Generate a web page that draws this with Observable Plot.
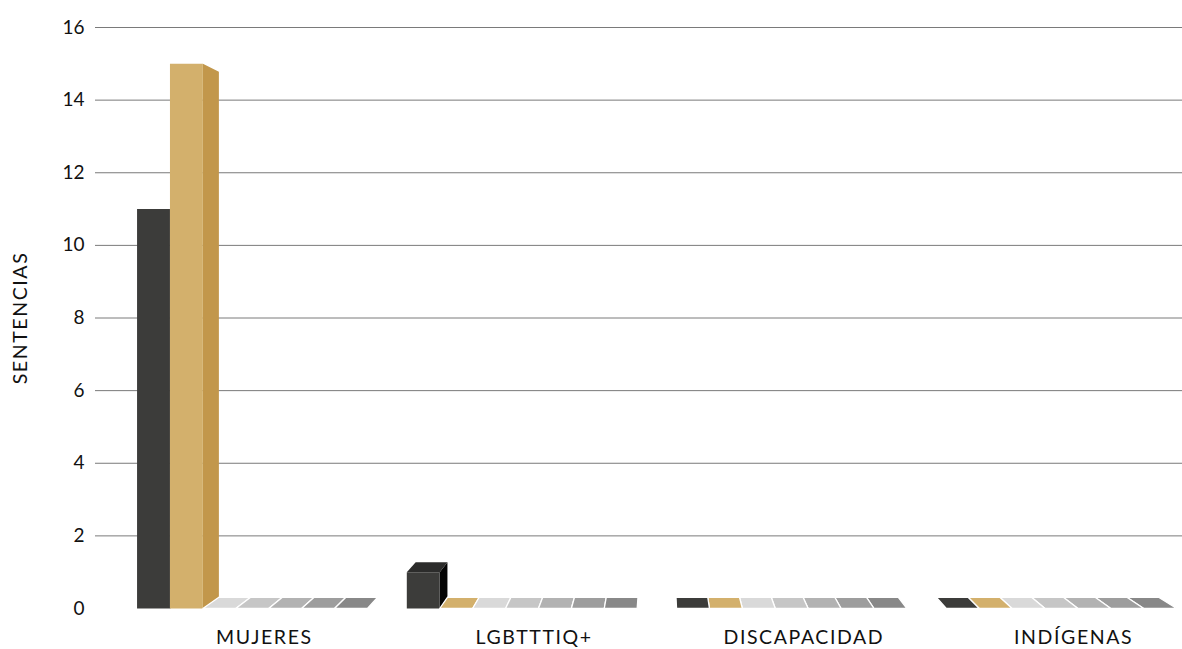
<!DOCTYPE html>
<html>
<head>
<meta charset="utf-8">
<script src="https://cdn.jsdelivr.net/npm/d3@7"></script>
<script src="https://cdn.jsdelivr.net/npm/@observablehq/plot@0.6"></script>
<style>
  body { margin: 0; background: #fff; }
  svg { display: block; }
</style>
</head>
<body>
<script>
// ---- data ----
const categories = ["MUJERES", "LGBTTTIQ+", "DISCAPACIDAD", "INDÍGENAS"];
const serie1 = [11, 1, 0, 0];
const serie2 = [15, 0, 0, 0];
const serie3 = [0, 0, 0, 0];
const serie4 = [0, 0, 0, 0];
const serie5 = [0, 0, 0, 0];
const serie6 = [0, 0, 0, 0];
const serie7 = [0, 0, 0, 0];
const yTicks = [0, 2, 4, 6, 8, 10, 12, 14, 16];
const yTitle = "SENTENCIAS";

// ---- style ----
const frontColors = ["#3c3c3a", "#d3b06c", "#d9d9d9", "#c6c6c6", "#b2b2b2", "#9d9d9d", "#888888"];
const sideColors  = ["#050505", "#c2974b", "#c4c4c4", "#b0b0b0", "#9c9c9c", "#888888", "#757575"];
const topColors   = ["#2c2c2b", "#c8a560", "#d0d0d0", "#bcbcbc", "#a8a8a8", "#939393", "#7f7f7f"];

const series = [serie1, serie2, serie3, serie4, serie5, serie6, serie7];

// perspective (in data coordinates): vanishing point and depth scale
const V = {x: 1.4685, y: 8.84};
const depth = 0.965;
const barW = 0.122;
const groupShift = -0.045;
const back = ([x, y]) => [V.x + (x - V.x) * depth, V.y + (y - V.y) * depth];

const verts = [];
let fid = 0;
function face(pts, fill, stroke) {
  fid++;
  for (const [x, y] of pts) verts.push({id: fid, x, y, fill, stroke});
}

categories.forEach((cat, i) => {
  const c = i + groupShift;
  const order = d3.range(series.length);
  if (c > V.x) order.reverse();
  for (const j of order) {
    const v = series[j][i];
    const x0 = c + (j - series.length / 2) * barW;
    const x1 = x0 + barW;
    if (v === 0) {
      face([[x0, 0], [x1, 0], back([x1, 0]), back([x0, 0])], frontColors[j], "#ffffff");
    } else {
      if (x1 <= V.x) face([[x1, 0], [x1, v], back([x1, v]), back([x1, 0])], sideColors[j], "none");
      else if (x0 >= V.x) face([[x0, 0], [x0, v], back([x0, v]), back([x0, 0])], sideColors[j], "none");
      if (v < V.y) face([[x0, v], [x1, v], back([x1, v]), back([x0, v])], topColors[j], "none");
      face([[x0, 0], [x1, 0], [x1, v], [x0, v]], frontColors[j], "none");
    }
  }
});

const chart = Plot.plot({
  width: 1182,
  height: 649,
  marginLeft: 95,
  marginRight: 0,
  marginTop: 27,
  marginBottom: 41,
  style: {fontFamily: "Lato, 'Open Sans', sans-serif", background: "#fff"},
  x: {domain: [-0.5, 3.5], range: [129, 1208], axis: null},
  y: {domain: [0, 16], axis: null},
  color: {type: "identity"},
  marks: [
    Plot.ruleY(yTicks.filter(d => d > 0), {stroke: "#7a7a7a", strokeWidth: 1}),
    Plot.line(verts, {x: "x", y: "y", z: "id", fill: "fill", stroke: "stroke", strokeWidth: 1.3, curve: "linear-closed"}),
    Plot.text(yTicks, {y: d => d, text: d => String(d), frameAnchor: "left", textAnchor: "end", dx: -11, fontSize: 19, fill: "#111"}),
    Plot.text(categories, {x: (d, i) => i, y: () => 0, dy: 29, text: d => d, fontSize: 19.5, fill: "#111"}),
    Plot.text([yTitle], {text: d => d, frameAnchor: "left", textAnchor: "middle", dx: -75, rotate: -90, fontSize: 19.5, fill: "#111"})
  ]
});
// letter spacing for category labels and the axis title
d3.select(chart).selectAll("text").filter(function() {
  const t = this.textContent;
  return categories.includes(t) || t === yTitle;
}).attr("letter-spacing", "1.6px");
document.body.appendChild(chart);
</script>
</body>
</html>
